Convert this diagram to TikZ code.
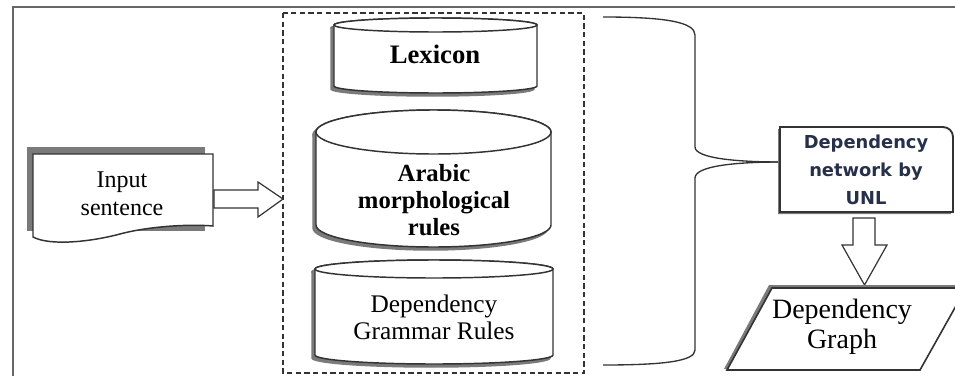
\documentclass[tikz,border=0pt]{standalone}
\usepackage{fontspec}
\setmainfont{Liberation Serif}
\newfontfamily\netfont{DejaVu Sans}
\definecolor{linec}{HTML}{333333}
\definecolor{shadowc}{HTML}{7A7A7A}
\definecolor{framec}{HTML}{666666}
\definecolor{nettext}{HTML}{26304A}
\tikzset{
  outline/.style={draw=linec, line width=1.1pt, fill=white},
  shade/.style={draw=shadowc, fill=shadowc, line width=1.1pt},
  txt/.style={align=center, inner sep=0pt, text=black},
}
% cylinder: x1, x2, ytop, ybottom, ry (image px, y downward)
\newcommand\mycyl[6]{%
  \pgfmathsetmacro\cx{(#1+#2)/2}\pgfmathsetmacro\rx{(#2-#1)/2}%
  \pgfmathsetmacro\yt{-(#3+#5)}\pgfmathsetmacro\yb{-(#4-#5)}%
  \path[#6] (#1,\yt) -- (#1,\yb) arc[start angle=180,end angle=360,x radius=\rx,y radius=#5] -- (#2,\yt) arc[start angle=0,end angle=180,x radius=\rx,y radius=#5] -- cycle;
  \path[#6] (\cx,\yt) ellipse[x radius=\rx,y radius=#5];
}
\begin{document}
\begin{tikzpicture}[x=0.75pt,y=0.75pt]
\useasboundingbox (0,0) rectangle (955,-375);
\begin{scope}
\clip (0,0) rectangle (955,-375);
% outer frame
\draw[framec, line width=1.6pt] (13,-376) -- (13,-7) -- (956,-7);
% dashed group
\draw[linec, line width=1.1pt, dash pattern=on 4pt off 2.5pt] (283,-13) rectangle (584,-373);
% cylinders with shadow
\begin{scope}[shift={(-3,-3)}]
\mycyl{334}{537}{18}{93}{7}{shade}
\mycyl{316}{551}{110}{247}{22}{shade}
\mycyl{315}{553}{260}{364}{9}{shade}
\end{scope}
\mycyl{334}{537}{18}{93}{7}{outline}
\mycyl{316}{551}{110}{247}{22}{outline}
\mycyl{315}{553}{260}{364}{9}{outline}
\node[txt, font=\fontsize{20}{22}\selectfont\bfseries] (lex) at (435,-54) {Lexicon};
\node[txt, font=\fontsize{18.5}{20.3}\selectfont\bfseries] (morph) at (434,-200) {Arabic\\morphological\\rules};
\node[txt, font=\fontsize{19}{20.3}\selectfont] (gram) at (434,-317) {Dependency\\Grammar Rules};
% input sentence document
\fill[shadowc] (27,-147) rectangle (205,-231);
\draw[outline] (33,-154) -- (213,-154) -- (213,-226)
  .. controls (190,-224) and (150,-226) .. (120,-234)
  .. controls (90,-242) and (50,-246) .. (33,-237) -- cycle;
\node[txt, font=\fontsize{18}{21}\selectfont] (input) at (122,-194) {Input\\sentence};
% block arrow input -> group
\draw[outline, line width=0.9pt] (214,-190) -- (258,-190) -- (258,-182) -- (283,-199) -- (258,-217) -- (258,-208) -- (214,-208) -- cycle;
% brace
\draw[linec, line width=1pt] (603,-17) .. controls (665,-17) and (695,-22) .. (695,-35) -- (695,-147)
  .. controls (695,-158) and (735,-162) .. (781,-162);
\draw[linec, line width=1pt] (781,-162) .. controls (735,-162) and (695,-166) .. (695,-178) -- (695,-350)
  .. controls (695,-361) and (665,-365) .. (603,-365);
% dependency network box
\fill[shadowc] (778,-129) -- (778,-214) -- (951,-214) -- (951,-135) -- cycle;
\draw[outline, line width=1.4pt] (780,-212) -- (780,-127) -- (943,-127) arc[start angle=90,end angle=0,radius=10] -- (953,-212) -- cycle;
\node[txt, font=\fontsize{13.4}{21}\netfont\bfseries, text=nettext] (net) at (866,-170) {Dependency\\network by\\UNL};
% down block arrow
\draw[outline, line width=0.9pt] (853,-218) -- (875,-218) -- (875,-245) -- (887,-245) -- (864.5,-285) -- (842,-245) -- (853,-245) -- cycle;
% parallelogram
\fill[shadowc] (724,-369) -- (769,-285) -- (960,-285) -- (960,-290) -- (775,-290) -- (731,-369) -- cycle;
\draw[outline, line width=1.2pt] (727,-370) -- (772,-288) -- (966,-288) -- (920,-370) -- cycle;
\node[txt, font=\fontsize{21}{22.5}\selectfont] (graph) at (842,-327) {Dependency\\Graph};
\end{scope}
\end{tikzpicture}
\end{document}
